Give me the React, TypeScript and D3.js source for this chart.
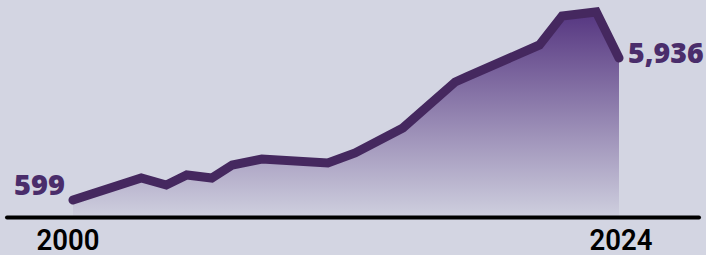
import React from "react";
import * as d3 from "d3";

// vertex years (some fall mid-year) and values
const years = [2000, 2003, 2004.1, 2005, 2006.1, 2007, 2008.3, 2011.2, 2012.4, 2014.5, 2016.8, 2017.3, 2020.5, 2021.5, 2023, 2024];
const values = [599, 1428, 1165, 1541, 1428, 1917, 2142, 1992, 2368, 3307, 5036, 5224, 6427, 7517, 7667, 5936];
const tickYears = [2000, 2024];

const width = 706, height = 255;

const App = () => {
  const x = d3.scaleLinear().domain([2000, 2024]).range([73, 619]);
  const y = d3.scaleLinear().domain([0, 8000]).range([216, 3.1]);

  const pts = years.map((yr, i) => [yr, values[i]] as [number, number]);

  const line = d3.line<[number, number]>()
    .x(d => x(d[0]))
    .y(d => y(d[1]));

  const area = d3.area<[number, number]>()
    .x(d => x(d[0]))
    .y0(y(0))
    .y1(d => y(d[1]));

  const first = values[0], last = values[values.length - 1];
  const fmt = d3.format(",");

  return (
    <svg width={width} height={height} style={{ position: "fixed", left: 0, top: 0, background: "#d3d5e2" }}>
      <defs>
        <linearGradient id="fade" gradientUnits="userSpaceOnUse" x1="0" y1={y(7700)} x2="0" y2={y(0)}>
          <stop offset="0" stopColor="#553580" stopOpacity={1} />
          <stop offset="1" stopColor="#553580" stopOpacity={0.04} />
        </linearGradient>
      </defs>
      <path d={area(pts) || ""} fill="url(#fade)" />
      <path d={line(pts) || ""} fill="none" stroke="#45285f" strokeWidth={9} strokeLinecap="round" />
      <line x1={7} x2={699} y1={217.5} y2={217.5} stroke="#000" strokeWidth={4} strokeLinecap="round" />
      {tickYears.map(t => (
        <text key={t} x={x(t) - (t === 2000 ? 5 : -2)} y={249.5} textAnchor="middle" fontFamily="Roboto, sans-serif"
          fontWeight={600} fontSize={29} textLength={63} lengthAdjust="spacingAndGlyphs" fill="#000">{t}</text>
      ))}
      <text x={x(2000) - 8} y={195} textAnchor="end" fontFamily="'Open Sans', sans-serif" fontWeight={800}
        fontSize={29} fill="#4a2d6b">{fmt(first)}</text>
      <text x={x(2024) + 9} y={63} textAnchor="start" fontFamily="'Open Sans', sans-serif" fontWeight={800}
        fontSize={28.5} fill="#4a2d6b">{fmt(last)}</text>
    </svg>
  );
};

export default App;
